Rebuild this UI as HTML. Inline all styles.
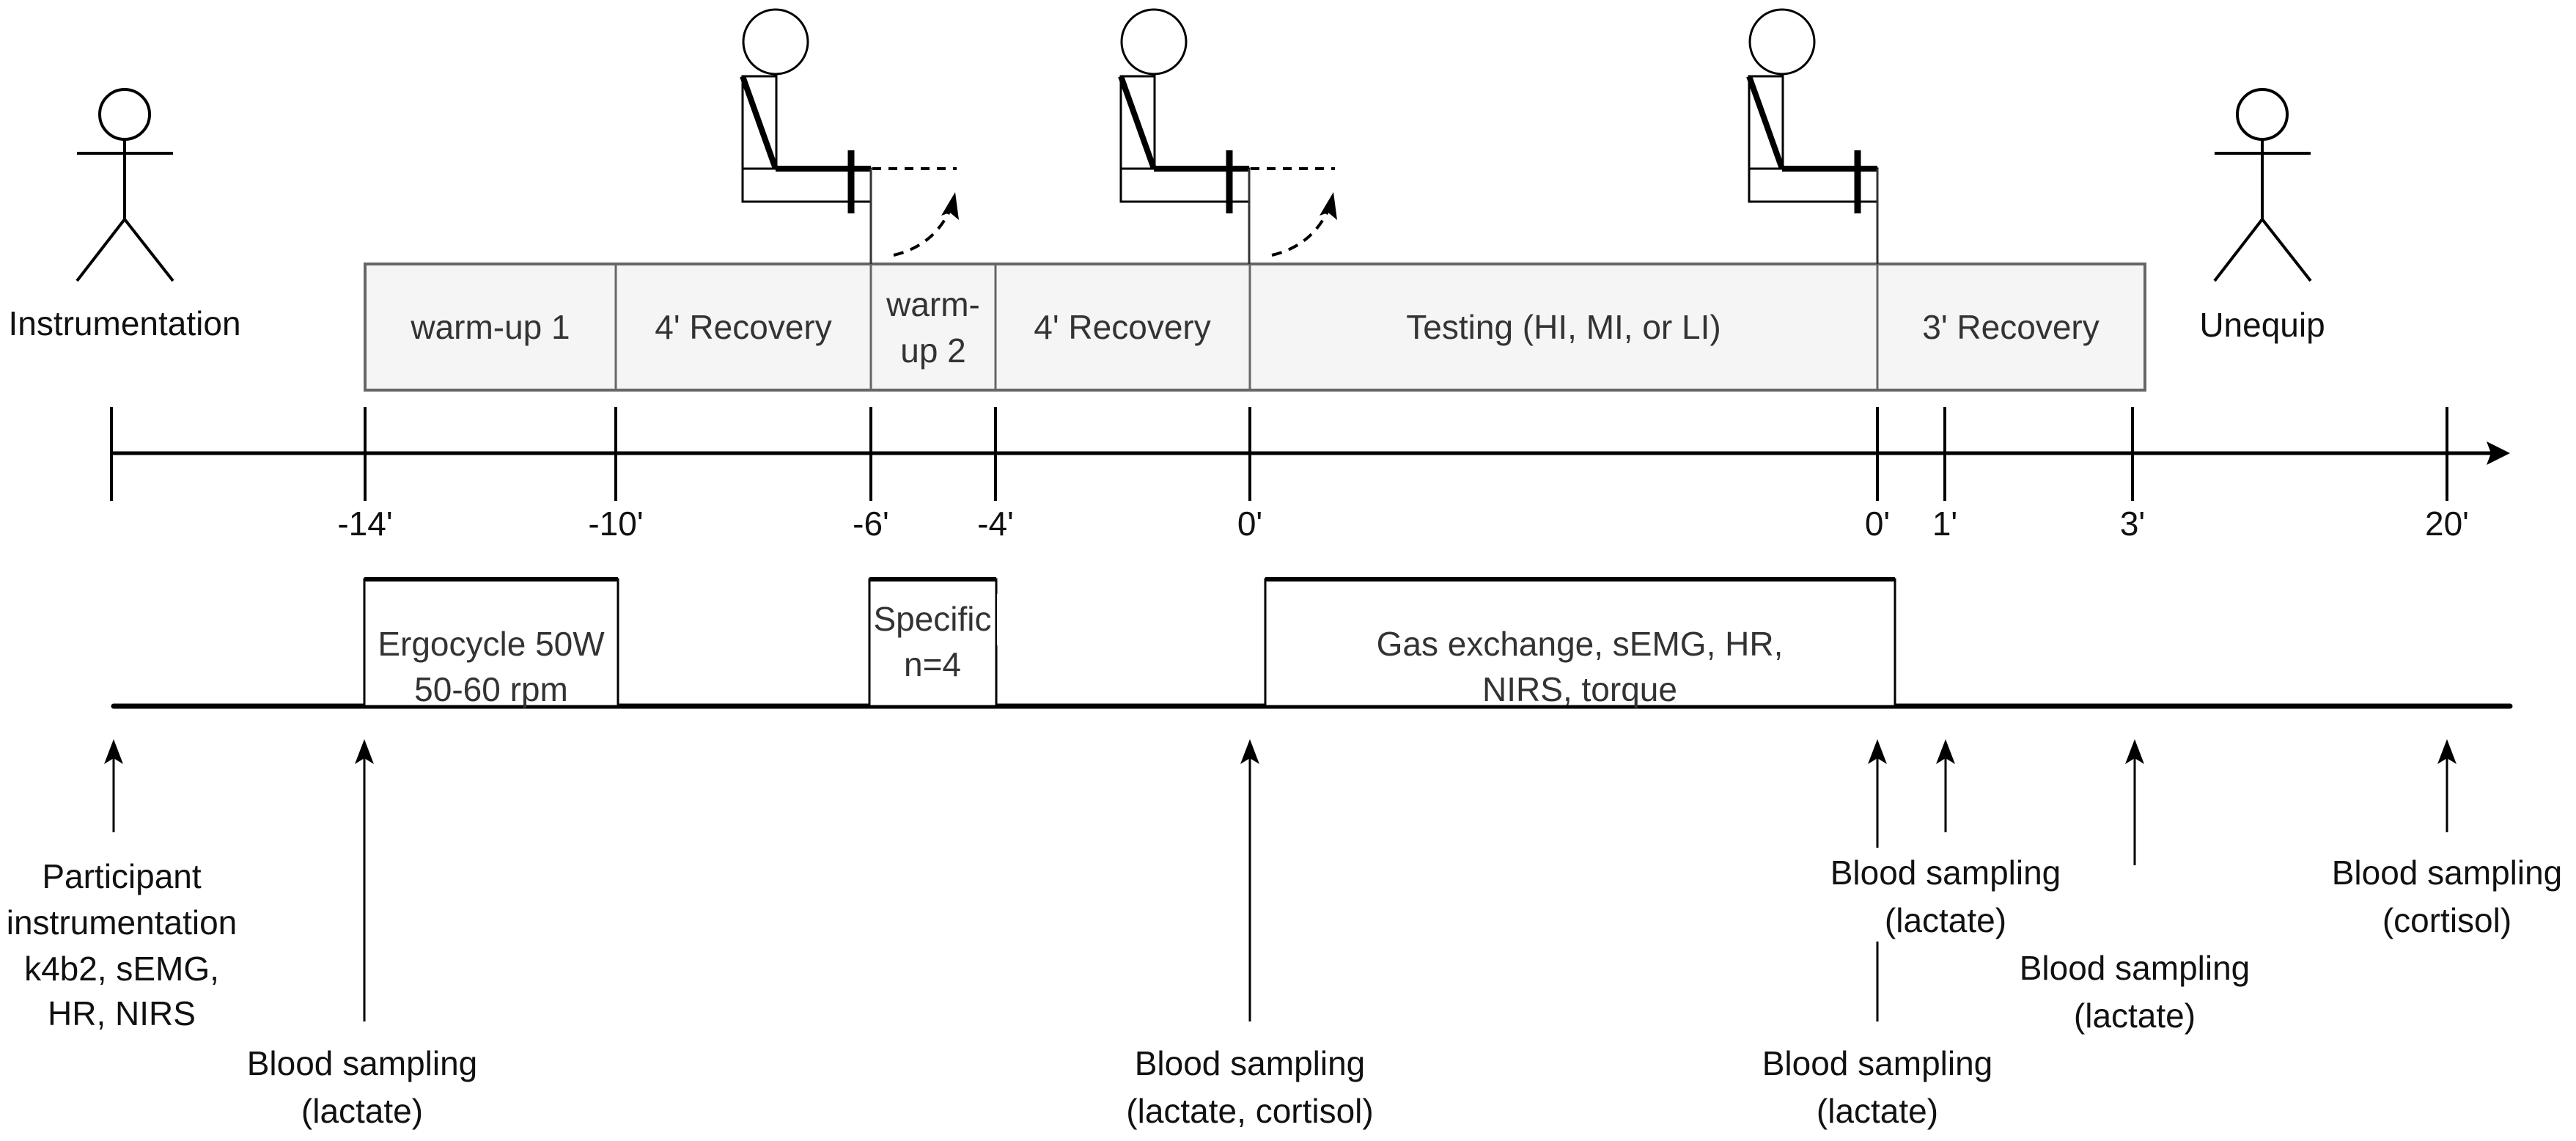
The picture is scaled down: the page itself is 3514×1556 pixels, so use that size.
<!DOCTYPE html>
<html><head><meta charset="utf-8"><style>
html,body{margin:0;padding:0;background:#fff;}
svg{display:block;}
text{font-family:"Liberation Sans",Arial,sans-serif;font-size:46px;text-anchor:middle;dominant-baseline:central;}
</style></head><body>
<svg width="3514" height="1556" viewBox="0 0 3514 1556" xmlns="http://www.w3.org/2000/svg">
<defs>
<marker id="ah" markerWidth="10" markerHeight="10" refX="5" refY="5" orient="auto" markerUnits="userSpaceOnUse" viewBox="0 0 10 10">
</marker>
<g id="seat">
  <circle cx="1058" cy="57" r="44" fill="#fff" stroke="#000" stroke-width="3"/>
  <rect x="1013" y="104" width="46" height="126" fill="none" stroke="#000" stroke-width="3"/>
  <line x1="1013" y1="104" x2="1058" y2="230" stroke="#000" stroke-width="8"/>
  <rect x="1013" y="230" width="175" height="45" fill="#fff" stroke="#000" stroke-width="3"/>
  <line x1="1058" y1="230" x2="1188" y2="230" stroke="#000" stroke-width="8"/>
  <line x1="1161" y1="205" x2="1161" y2="291" stroke="#000" stroke-width="9"/>
  <line x1="1188" y1="230" x2="1188" y2="360" stroke="#333" stroke-width="3"/>
</g>
<g id="dash">
  <line x1="1190" y1="230" x2="1305" y2="230" stroke="#000" stroke-width="4" stroke-dasharray="12,10"/>
  <path d="M1219,348 Q1275,335 1298,282" fill="none" stroke="#000" stroke-width="4" stroke-dasharray="14,10"/>
  <polygon points="1303,262 1308,300 1296,290 1284,294" fill="#000"/>
</g>
<g id="stick" stroke="#000" stroke-width="4" fill="none">
  <circle cx="170" cy="156" r="34" fill="#fff"/>
  <line x1="170" y1="190" x2="170" y2="299"/>
  <line x1="105" y1="209" x2="236" y2="209"/>
  <line x1="170" y1="299" x2="105" y2="383"/>
  <line x1="170" y1="299" x2="236" y2="383"/>
</g>
</defs>

<!-- stick figures -->
<use href="#stick"/>
<use href="#stick" transform="translate(2916,0)"/>
<text x="170" y="441" fill="#111">Instrumentation</text>
<text x="3086" y="443" fill="#111">Unequip</text>

<!-- top phases -->
<rect x="498" y="360" width="2428" height="172" fill="#f5f5f5" stroke="#666" stroke-width="4"/>
<g stroke="#666" stroke-width="3">
<line x1="840" y1="360" x2="840" y2="532"/>
<line x1="1188" y1="360" x2="1188" y2="532"/>
<line x1="1358" y1="360" x2="1358" y2="532"/>
<line x1="1705" y1="360" x2="1705" y2="532"/>
<line x1="2561" y1="360" x2="2561" y2="532"/>
</g>
<g fill="#333">
<text x="669" y="446">warm-up 1</text>
<text x="1014" y="446">4' Recovery</text>
<text x="1273" y="415">warm-</text>
<text x="1273" y="478">up 2</text>
<text x="1531" y="446">4' Recovery</text>
<text x="2133" y="446">Testing (HI, MI, or LI)</text>
<text x="2743" y="446">3' Recovery</text>
</g>

<!-- seated figures -->
<use href="#seat"/>
<use href="#dash"/>
<use href="#seat" transform="translate(516,0)"/>
<use href="#dash" transform="translate(516,0)"/>
<use href="#seat" transform="translate(1373,0)"/>

<!-- axis -->
<line x1="152" y1="618" x2="3405" y2="618" stroke="#000" stroke-width="5"/>
<polygon points="3424,618 3392,602 3398,618 3392,634" fill="#000"/>
<g stroke="#000" stroke-width="4">
<line x1="152" y1="555" x2="152" y2="683"/>
<line x1="498" y1="555" x2="498" y2="683"/>
<line x1="840" y1="555" x2="840" y2="683"/>
<line x1="1188" y1="555" x2="1188" y2="683"/>
<line x1="1358" y1="555" x2="1358" y2="683"/>
<line x1="1705" y1="555" x2="1705" y2="683"/>
<line x1="2561" y1="555" x2="2561" y2="683"/>
<line x1="2653" y1="555" x2="2653" y2="683"/>
<line x1="2909" y1="555" x2="2909" y2="683"/>
<line x1="3338" y1="555" x2="3338" y2="683"/>
</g>
<g fill="#111">
<text x="498" y="714">-14'</text>
<text x="840" y="714">-10'</text>
<text x="1188" y="714">-6'</text>
<text x="1358" y="714">-4'</text>
<text x="1705" y="714">0'</text>
<text x="2561" y="714">0'</text>
<text x="2653" y="714">1'</text>
<text x="2909" y="714">3'</text>
<text x="3338" y="714">20'</text>
</g>

<!-- measurement lane -->
<line x1="155" y1="963" x2="3424" y2="963" stroke="#000" stroke-width="7" stroke-linecap="round"/>
<g fill="#fff" stroke="#000" stroke-width="3">
<rect x="497" y="790" width="346" height="173"/>
<rect x="1186" y="790" width="173" height="173"/>
<rect x="1726" y="790" width="859" height="173"/>
</g>
<g stroke="#000" stroke-width="6">
<line x1="497" y1="790" x2="843" y2="790"/>
<line x1="1186" y1="790" x2="1359" y2="790"/>
<line x1="1726" y1="790" x2="2585" y2="790"/>
</g>
<g fill="#333">
<text x="670" y="878">Ergocycle 50W</text>
<text x="670" y="940">50-60 rpm</text>
<text x="1272" y="844">Specific</text>
<text x="1272" y="906">n=4</text>
<text x="2155" y="878">Gas exchange, sEMG, HR,</text>
<text x="2155" y="940">NIRS, torque</text>
</g>
<rect x="1360" y="810" width="40" height="70" fill="#fff"/>

<!-- up arrows -->
<g stroke="#000" stroke-width="3">
<line x1="155" y1="1030" x2="155" y2="1135"/>
<line x1="497" y1="1030" x2="497" y2="1393"/>
<line x1="1705" y1="1030" x2="1705" y2="1393"/>
<line x1="2561" y1="1030" x2="2561" y2="1156"/>
<line x1="2561" y1="1284" x2="2561" y2="1393"/>
<line x1="2654" y1="1030" x2="2654" y2="1135"/>
<line x1="2912" y1="1030" x2="2912" y2="1180"/>
<line x1="3338" y1="1030" x2="3338" y2="1135"/>
</g>
<g fill="#000">
<polygon points="155,1008 142,1042 155,1034 168,1042"/>
<polygon points="497,1008 484,1042 497,1034 510,1042"/>
<polygon points="1705,1008 1692,1042 1705,1034 1718,1042"/>
<polygon points="2561,1008 2548,1042 2561,1034 2574,1042"/>
<polygon points="2654,1008 2641,1042 2654,1034 2667,1042"/>
<polygon points="2912,1008 2899,1042 2912,1034 2925,1042"/>
<polygon points="3338,1008 3325,1042 3338,1034 3351,1042"/>
</g>

<!-- bottom labels -->
<g fill="#111">
<text x="166" y="1195">Participant</text>
<text x="166" y="1258">instrumentation</text>
<text x="166" y="1321">k4b2, sEMG,</text>
<text x="166" y="1382">HR, NIRS</text>
<text x="494" y="1450">Blood sampling</text>
<text x="494" y="1515">(lactate)</text>
<text x="1705" y="1450">Blood sampling</text>
<text x="1705" y="1515">(lactate, cortisol)</text>
<text x="2561" y="1450">Blood sampling</text>
<text x="2561" y="1515">(lactate)</text>
<text x="2654" y="1190">Blood sampling</text>
<text x="2654" y="1255">(lactate)</text>
<text x="2912" y="1320">Blood sampling</text>
<text x="2912" y="1385">(lactate)</text>
<text x="3338" y="1190">Blood sampling</text>
<text x="3338" y="1255">(cortisol)</text>
</g>
</svg>
</body></html>
